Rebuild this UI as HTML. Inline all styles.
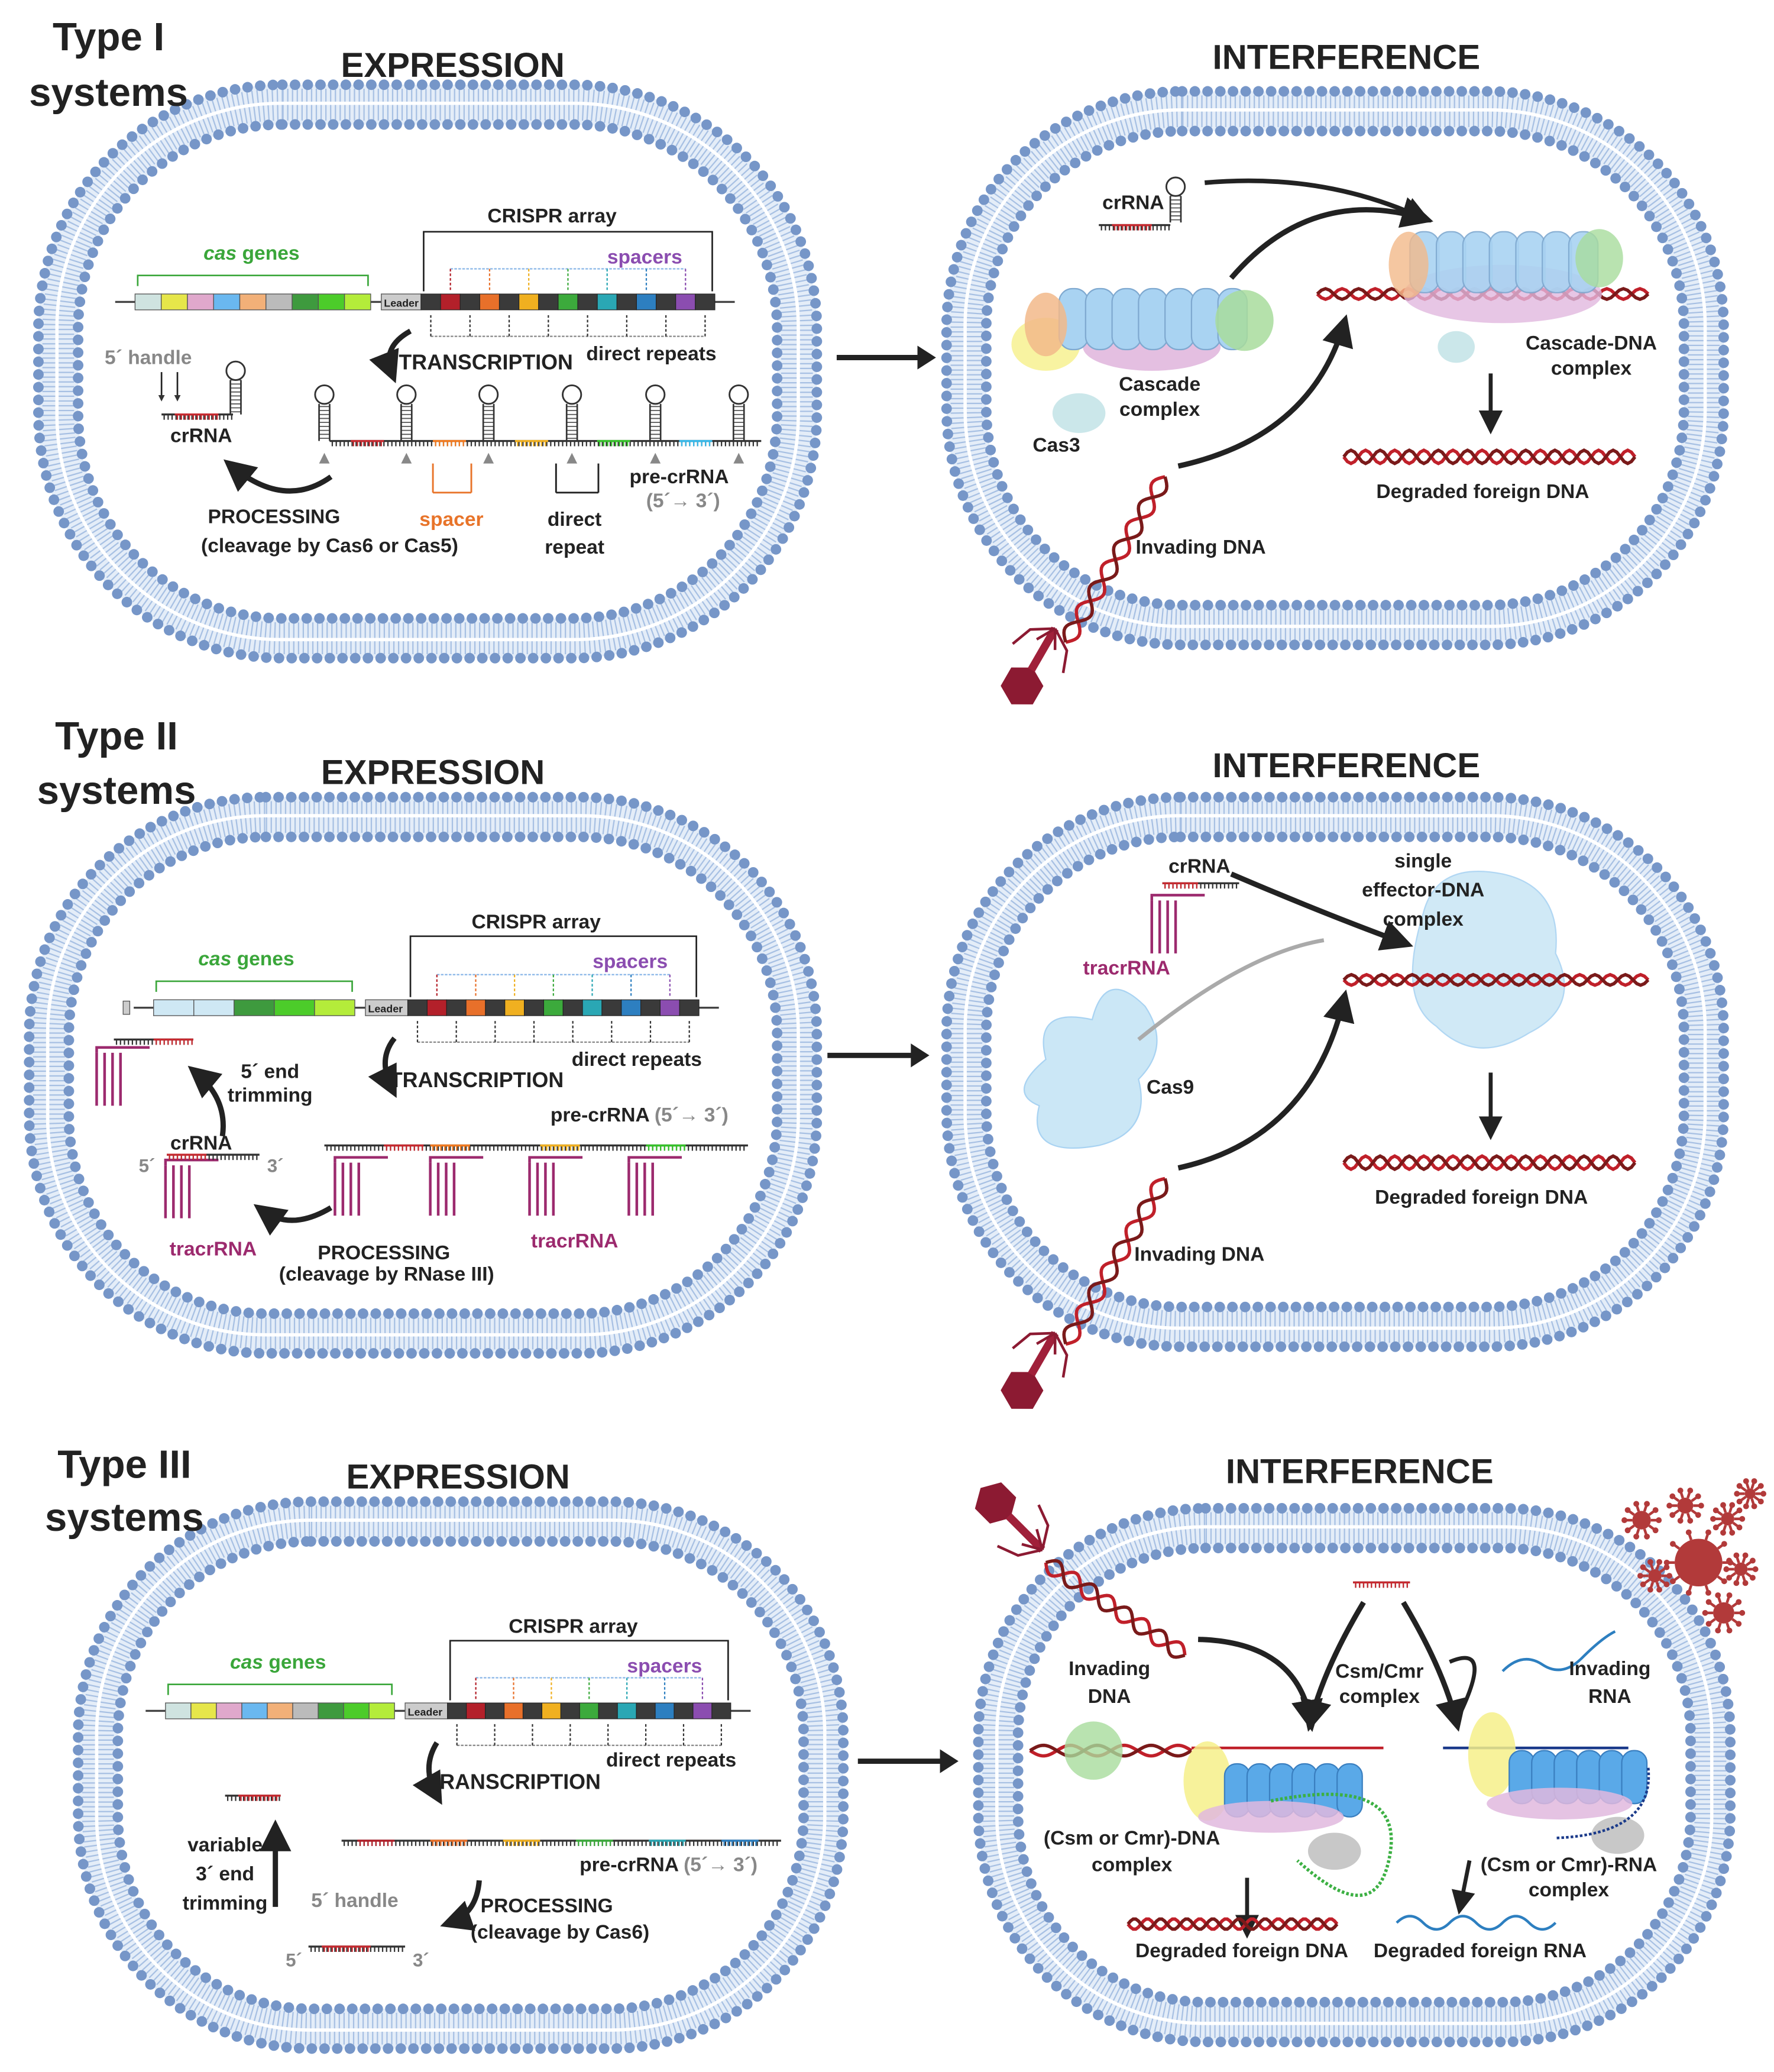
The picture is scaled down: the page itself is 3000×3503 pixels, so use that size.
<!DOCTYPE html>
<html><head><meta charset="utf-8"><style>
html,body{margin:0;padding:0;background:#fff}
svg{display:block}
text{font-family:"Liberation Sans",sans-serif;font-weight:bold;fill:#222}
</style></head><body>
<svg id="s" xmlns="http://www.w3.org/2000/svg" width="3000" height="3503" viewBox="0 0 1340 1564.7">
<defs>
<marker id="ah" markerWidth="6" markerHeight="6" refX="4" refY="3" orient="auto"><path d="M0,0 L6,3 L0,6 z" fill="#222"/></marker>
<marker id="sah" markerWidth="4" markerHeight="4" refX="3" refY="2" orient="auto"><path d="M0,0 L4,2 L0,4 z" fill="#333"/></marker>
</defs>
<g id="g"></g>
<text x="82" y="38" font-size="30" text-anchor="middle">Type I</text>
<text x="82" y="80" font-size="30" text-anchor="middle">systems</text>
<text x="342" y="58" font-size="26" text-anchor="middle">EXPRESSION</text>
<text x="1017" y="52" font-size="26" text-anchor="middle">INTERFERENCE</text>
<text x="88" y="566" font-size="30" text-anchor="middle">Type II</text>
<text x="88" y="607" font-size="30" text-anchor="middle">systems</text>
<text x="327" y="592" font-size="26" text-anchor="middle">EXPRESSION</text>
<text x="1017" y="587" font-size="26" text-anchor="middle">INTERFERENCE</text>
<text x="94" y="1116" font-size="30" text-anchor="middle">Type III</text>
<text x="94" y="1156" font-size="30" text-anchor="middle">systems</text>
<text x="346" y="1124" font-size="26" text-anchor="middle">EXPRESSION</text>
<text x="1027" y="1120" font-size="26" text-anchor="middle">INTERFERENCE</text>

<text x="417" y="168" font-size="15" text-anchor="middle">CRISPR array</text>
<text x="190" y="196" font-size="15" text-anchor="middle" style="fill:#3aa63a"><tspan font-style="italic" style="fill:#3aa63a">cas</tspan> genes</text>
<text x="487" y="199" font-size="15" text-anchor="middle" style="fill:#8b4db0">spacers</text>
<text x="492" y="272" font-size="15" text-anchor="middle">direct repeats</text>
<text x="367" y="279" font-size="16" text-anchor="middle">TRANSCRIPTION</text>
<text x="112" y="275" font-size="15" text-anchor="middle" style="fill:#888">5´ handle</text>
<text x="152" y="334" font-size="15" text-anchor="middle">crRNA</text>
<text x="207" y="395" font-size="15" text-anchor="middle">PROCESSING</text>
<text x="249" y="417" font-size="15" text-anchor="middle">(cleavage by Cas6 or Cas5)</text>
<text x="341" y="397" font-size="15" text-anchor="middle" style="fill:#e8742a">spacer</text>
<text x="434" y="397" font-size="15" text-anchor="middle">direct</text>
<text x="434" y="418" font-size="15" text-anchor="middle">repeat</text>
<text x="513" y="365" font-size="15" text-anchor="middle">pre-crRNA</text>
<text x="516" y="383" font-size="15" text-anchor="middle" style="fill:#888">(5´→ 3´)</text>
<text x="856" y="158" font-size="15" text-anchor="middle">crRNA</text>
<text x="876" y="295" font-size="15" text-anchor="middle">Cascade</text>
<text x="876" y="314" font-size="15" text-anchor="middle">complex</text>
<text x="798" y="341" font-size="15" text-anchor="middle">Cas3</text>
<text x="907" y="418" font-size="15" text-anchor="middle">Invading DNA</text>
<text x="1202" y="264" font-size="15" text-anchor="middle">Cascade-DNA</text>
<text x="1202" y="283" font-size="15" text-anchor="middle">complex</text>
<text x="1120" y="376" font-size="15" text-anchor="middle">Degraded foreign DNA</text>

<text x="405" y="701" font-size="15" text-anchor="middle">CRISPR array</text>
<text x="186" y="729" font-size="15" text-anchor="middle" style="fill:#3aa63a"><tspan font-style="italic" style="fill:#3aa63a">cas</tspan> genes</text>
<text x="476" y="731" font-size="15" text-anchor="middle" style="fill:#8b4db0">spacers</text>
<text x="481" y="805" font-size="15" text-anchor="middle">direct repeats</text>
<text x="360" y="821" font-size="16" text-anchor="middle">TRANSCRIPTION</text>
<text x="204" y="814" font-size="15" text-anchor="middle">5´ end</text>
<text x="204" y="832" font-size="15" text-anchor="middle">trimming</text>
<text x="483" y="847" font-size="15" text-anchor="middle">pre-crRNA <tspan style="fill:#888">(5´→ 3´)</tspan></text>
<text x="152" y="868" font-size="15" text-anchor="middle">crRNA</text>
<text x="111" y="885" font-size="14" text-anchor="middle" style="fill:#888">5´</text>
<text x="208" y="885" font-size="14" text-anchor="middle" style="fill:#888">3´</text>
<text x="161" y="948" font-size="15" text-anchor="middle" style="fill:#9c2a6e">tracrRNA</text>
<text x="434" y="942" font-size="15" text-anchor="middle" style="fill:#9c2a6e">tracrRNA</text>
<text x="290" y="951" font-size="15" text-anchor="middle">PROCESSING</text>
<text x="292" y="967" font-size="15" text-anchor="middle">(cleavage by RNase III)</text>
<text x="906" y="659" font-size="15" text-anchor="middle">crRNA</text>
<text x="851" y="736" font-size="15" text-anchor="middle" style="fill:#9c2a6e">tracrRNA</text>
<text x="1075" y="655" font-size="15" text-anchor="middle">single</text>
<text x="1075" y="677" font-size="15" text-anchor="middle">effector-DNA</text>
<text x="1075" y="699" font-size="15" text-anchor="middle">complex</text>
<text x="884" y="826" font-size="15" text-anchor="middle">Cas9</text>
<text x="906" y="952" font-size="15" text-anchor="middle">Invading DNA</text>
<text x="1119" y="909" font-size="15" text-anchor="middle">Degraded foreign DNA</text>

<text x="433" y="1233" font-size="15" text-anchor="middle">CRISPR array</text>
<text x="210" y="1260" font-size="15" text-anchor="middle" style="fill:#3aa63a"><tspan font-style="italic" style="fill:#3aa63a">cas</tspan> genes</text>
<text x="502" y="1263" font-size="15" text-anchor="middle" style="fill:#8b4db0">spacers</text>
<text x="507" y="1334" font-size="15" text-anchor="middle">direct repeats</text>
<text x="388" y="1351" font-size="16" text-anchor="middle">TRANSCRIPTION</text>
<text x="505" y="1413" font-size="15" text-anchor="middle">pre-crRNA <tspan style="fill:#888">(5´→ 3´)</tspan></text>
<text x="170" y="1398" font-size="15" text-anchor="middle">variable</text>
<text x="170" y="1420" font-size="15" text-anchor="middle">3´ end</text>
<text x="170" y="1442" font-size="15" text-anchor="middle">trimming</text>
<text x="268" y="1440" font-size="15" text-anchor="middle" style="fill:#888">5´ handle</text>
<text x="222" y="1485" font-size="14" text-anchor="middle" style="fill:#888">5´</text>
<text x="318" y="1485" font-size="14" text-anchor="middle" style="fill:#888">3´</text>
<text x="413" y="1444" font-size="15" text-anchor="middle">PROCESSING</text>
<text x="423" y="1464" font-size="15" text-anchor="middle">(cleavage by Cas6)</text>
<text x="838" y="1265" font-size="15" text-anchor="middle">Invading</text>
<text x="838" y="1286" font-size="15" text-anchor="middle">DNA</text>
<text x="1042" y="1267" font-size="15" text-anchor="middle">Csm/Cmr</text>
<text x="1042" y="1286" font-size="15" text-anchor="middle">complex</text>
<text x="1216" y="1265" font-size="15" text-anchor="middle">Invading</text>
<text x="1216" y="1286" font-size="15" text-anchor="middle">RNA</text>
<text x="855" y="1393" font-size="15" text-anchor="middle">(Csm or Cmr)-DNA</text>
<text x="855" y="1413" font-size="15" text-anchor="middle">complex</text>
<text x="1185" y="1413" font-size="15" text-anchor="middle">(Csm or Cmr)-RNA</text>
<text x="1185" y="1432" font-size="15" text-anchor="middle">complex</text>
<text x="938" y="1478" font-size="15" text-anchor="middle">Degraded foreign DNA</text>
<text x="1118" y="1478" font-size="15" text-anchor="middle">Degraded foreign RNA</text>
</svg>
<script>
const NS="http://www.w3.org/2000/svg";const G=document.getElementById('g');
function E(t,a,p){const e=document.createElementNS(NS,t);for(const k in a)e.setAttribute(k,a[k]);(p||G).appendChild(e);return e;}
function rr(x,y,w,h,r,st){return E('rect',Object.assign({x,y,width:w,height:h,rx:r,ry:r,fill:'none'},st));}
function mem(x,y,w,h){const r=Math.min(w,h)*0.42;
 rr(x,y,w,h,r,{fill:'#fff',stroke:'#e4edf8','stroke-width':30});
 rr(x,y,w,h,r,{stroke:'#a7c0e3','stroke-width':24,'stroke-dasharray':'1 2.6'});
 rr(x-1,y-1,w+2,h+2,r,{stroke:'#fff','stroke-width':2.5});
 rr(x-15,y-15,w+30,h+30,r+15,{stroke:'#7696c8','stroke-width':8,'stroke-dasharray':'0 9.6','stroke-linecap':'round'});
 rr(x+15,y+15,w-30,h-30,r-15,{stroke:'#7696c8','stroke-width':8,'stroke-dasharray':'0 9.6','stroke-linecap':'round'});}
mem(44,79,558,403);mem(730,84,557,388);mem(37,617,565,390);mem(730,617,557,385);mem(74,1149,548,383);mem(754,1154,538,373);
function line(x1,y1,x2,y2,c,w,extra){return E('line',Object.assign({x1,y1,x2,y2,stroke:c||'#222','stroke-width':w||1.5},extra||{}));}
function path(d,c,w,extra){return E('path',Object.assign({d,fill:'none',stroke:c||'#222','stroke-width':w||2},extra||{}));}
function bigArrow(x1,x2,y){line(x1,y,x2-10,y,'#222',4);E('path',{d:`M${x2-14},${y-9} L${x2},${y} L${x2-14},${y+9}z`,fill:'#222'});}
bigArrow(632,707,270);bigArrow(625,702,797);bigArrow(648,724,1330);
const SP=['#b3202a','#e8702a','#f0b020','#3caa3c','#2aa7b4','#2d7fc0','#8b4db0'];
function locus(gx0,gx1,lx,ax0,ax1,y,genes,top){
 line(gx0-15,y,ax1+15,y,'#444',1.5);
 let n=genes.length,w=(gx1-gx0)/n;genes.forEach((c,i)=>E('rect',{x:gx0+i*w,y:y-6,width:w,height:12,fill:c,stroke:'#555','stroke-width':.6}));
 E('rect',{x:lx,y:y-6,width:ax0-lx,height:12,fill:'#ccc',stroke:'#555','stroke-width':.6});
 const t=E('text',{x:lx+2,y:y+3.5,'font-size':8});t.textContent='Leader';
 let m=15,cw=(ax1-ax0)/m;for(let i=0;i<m;i++){E('rect',{x:ax0+i*cw,y:y-6,width:cw,height:12,fill:i%2?SP[(i-1)/2]:'#3a3a3a',stroke:'#222','stroke-width':.5});}
 path(`M${gx0+2},${y-12} V${y-20} H${gx1-2} V${y-12}`,'#3aa63a',1.2);
 path(`M${ax0+2},${y-8} V${top} H${ax1-2} V${y-8}`,'#222',1.2);
 line(ax0+cw*1.5,y-25,ax0+cw*13.5,y-25,'#8ab6e8',1,{'stroke-dasharray':'2 1'});
 for(let i=0;i<7;i++){let xx=ax0+cw*(1.5+2*i);line(xx,y-25,xx,y-9,SP[i],1,{'stroke-dasharray':'2 1.5'});}
 line(ax0+cw*0.5,y+26,ax0+cw*14.5,y+26,'#888',1,{'stroke-dasharray':'2 1'});
 for(let i=0;i<8;i++){let xx=ax0+cw*(0.5+2*i);line(xx,y+26,xx,y+10,'#333',1,{'stroke-dasharray':'2 1.5'});}
}
const GI=['#cfe3e0','#e6e64a','#e0a8cc','#6ab8f0','#f2b078','#bbb','#3e9a3e','#4ccc2a','#b4ec3a'];
locus(102,280,288,318,540,228,GI,175);
locus(116,268,276,308,528,761,['#cfe8f4','#cfe8f4','#3e9a3e','#4ccc2a','#b4ec3a'],707);
E('rect',{x:93,y:756,width:5,height:10,fill:'#ccc',stroke:'#555','stroke-width':.6});
locus(125,298,306,338,552,1292,GI,1239);
function curveArrow(d,c){path(d,c||'#222',4,{'marker-end':'url(#ah)'});}
curveArrow('M310,250 Q288,262 296,282');curveArrow('M250,360 Q215,385 175,352');
curveArrow('M298,784 Q285,800 296,822');curveArrow('M250,912 Q220,930 198,914');curveArrow('M168,858 Q172,830 148,810');
curveArrow('M330,1316 Q318,1335 330,1356');curveArrow('M362,1420 Q360,1445 340,1452');curveArrow('M208,1440 V1382');
function rna(x0,x1,y,c,dir){line(x0,y,x1,y,c||'#333',1.5);for(let x=x0+2;x<x1;x+=3)line(x,y,x,y+(dir||4),c||'#333',1);}
function hairpin(x,y,h){for(let i=0;i<h;i+=3)line(x-4,y-i-2,x+4,y-i-2,'#555',.8);line(x-4,y,x-4,y-h,'#333',1.2);line(x+4,y,x+4,y-h,'#333',1.2);E('circle',{cx:x,cy:y-h-7,r:7,fill:'#fff',stroke:'#333','stroke-width':1.3});}
[245,307,369,432,495,558].forEach((x,i)=>{hairpin(x,333,28);E('path',{d:`M${x-4},350 l4,-8 l4,8z`,fill:'#888'});});
rna(249,575,333);for(let i=0;i<5;i++)rna(265+i*62,290+i*62,333,['#c62a30','#f07a20','#f0b020','#36c12a','#37b8e8'][i]);
rna(122,176,313);rna(132,165,313,'#c62a30');hairpin(178,313,26);
line(122,281,122,302,'#222',1.2,{'marker-end':'url(#sah)'});line(134,281,134,302,'#222',1.2,{'marker-end':'url(#sah)'});
path('M327,372 V350 M356,372 V350 M327,372 H356','#e8742a',1.3);path('M420,372 V350 M452,372 V350 M420,372 H452','#222',1.3);
hairpin(888,168,20);rna(830,884,170);rna(840,870,170,'#c62a30');
E('ellipse',{cx:790,cy:260,rx:26,ry:20,fill:'#f6f08a',opacity:.8});E('ellipse',{cx:870,cy:262,rx:52,ry:18,fill:'#e1b8de',opacity:.9});
for(let i=0;i<7;i++)E('rect',{x:800+i*20,y:218,width:22,height:46,rx:10,fill:'#a9d3f2',stroke:'#7fa9d0','stroke-width':1});
E('ellipse',{cx:790,cy:245,rx:16,ry:24,fill:'#f2b98a',opacity:.85});E('ellipse',{cx:940,cy:242,rx:22,ry:23,fill:'#a8dc9c',opacity:.85});
E('ellipse',{cx:815,cy:312,rx:20,ry:15,fill:'#cbe7ea'});
function helix(x0,y0,x1,y1,n,amp,c1,c2){let d1='',d2='';for(let i=0;i<=80;i++){let t=i/80,x=x0+(x1-x0)*t,y=y0+(y1-y0)*t,dx=-(y1-y0),dy=(x1-x0),L=Math.hypot(dx,dy);let s=Math.sin(t*n*2*Math.PI)*amp;d1+=(i?'L':'M')+(x+dx/L*s)+','+(y+dy/L*s);d2+=(i?'L':'M')+(x-dx/L*s)+','+(y-dy/L*s);}path(d1,c1,2.5);path(d2,c2,2.5);}
function phage(x,y,a){const g=E('g',{transform:`translate(${x},${y}) rotate(${a})`});E('polygon',{points:'0,-16 14,-8 14,8 0,16 -14,8 -14,-8',fill:'#8c1a32'},g);E('rect',{x:-3,y:-50,width:6,height:36,fill:'#a0203a'},g);E('path',{d:'M0,-50 l-16,10 l-6,16 M0,-50 l16,10 l6,16 M0,-50 l-8,14 M0,-50 l8,14',stroke:'#8c1a32','stroke-width':2,fill:'none'},g);}
helix(805,485,880,360,4,6,'#c0202a','#7a1a1a');phage(772,518,30);
helix(805,1015,880,890,4,6,'#c0202a','#7a1a1a');phage(772,1050,30);
curveArrow('M890,352 Q990,330 1015,245');curveArrow('M930,210 Q990,140 1075,165');path('M910,138 Q1000,130 1075,165','#222',3.5,{'marker-end':'url(#ah)'});
helix(995,222,1245,222,10,4,'#c0202a','#7a1a1a');
E('ellipse',{cx:1135,cy:222,rx:75,ry:22,fill:'#e1b8de',opacity:.8});
for(let i=0;i<7;i++)E('rect',{x:1065+i*20,y:175,width:22,height:46,rx:10,fill:'#a9d3f2',stroke:'#7fa9d0','stroke-width':1,opacity:.9});
E('ellipse',{cx:1064,cy:200,rx:15,ry:25,fill:'#f2b98a',opacity:.8});E('ellipse',{cx:1208,cy:195,rx:18,ry:22,fill:'#a8dc9c',opacity:.8});
E('ellipse',{cx:1100,cy:262,rx:14,ry:12,fill:'#cbe7ea'});
line(1126,282,1126,322,'#222',3,{'marker-end':'url(#ah)'});helix(1015,345,1235,345,10,5,'#c0202a','#7a1a1a');
rna(245,565,865);[['#c62a30',290],['#f07a20',325],['#f0b020',408],['#36c12a',488]].forEach(([c,x])=>rna(x,x+30,865,c));
function tracr(x,y){path(`M${x},${y} v-4 h40`,'#9c2a6e',2);path(`M${x},${y} v40 m6,0 v-40 m6,0 v40 m6,0 v-40`,'#9c2a6e',2);}
[253,325,400,475].forEach(x=>tracr(x,878));tracr(125,880);tracr(73,795);
rna(86,146,785);rna(116,146,785,'#c62a30');rna(126,196,872);rna(126,156,872,'#c62a30');
rna(878,936,667);rna(878,905,667,'#c62a30');tracr(870,680);
path('M790,800 q-10,-40 35,-30 q10,-40 40,-10 q20,30 -5,55 q10,40 -30,50 q-55,10 -45,-30 q-25,-10 5,-35z','#a9d3f2',1,{fill:'#cbe7f6'});
curveArrow('M930,660 Q1000,690 1060,712');path('M860,785 Q940,720 1000,710','#aaa',3);
curveArrow('M890,882 Q990,860 1015,755');
path('M1075,690 q10,-40 60,-30 q45,10 40,60 q20,40 -20,60 q-40,25 -70,-5 q-30,-20 -10,-85z','#a9d3f2',1,{fill:'#cbe7f6',opacity:.9});
helix(1015,740,1245,740,10,4,'#c0202a','#7a1a1a');
line(1126,810,1126,855,'#222',3,{'marker-end':'url(#ah)'});helix(1015,878,1235,878,10,5,'#c0202a','#7a1a1a');
rna(258,590,1390);SP.slice(0,6).forEach((c,i)=>rna(270+i*55,298+i*55,1390,c));
rna(170,212,1356);rna(180,212,1356,'#c62a30');rna(233,306,1470);rna(243,280,1470,'#c62a30');
phage(752,1135,135);helix(790,1180,895,1250,4,6,'#c0202a','#7a1a1a');
rna(1022,1065,1195);rna(1022,1065,1195,'#c62a30');
curveArrow('M905,1238 Q980,1240 990,1300');curveArrow('M1030,1210 Q1000,1260 990,1300');curveArrow('M1060,1210 Q1090,1260 1100,1300');path('M1095,1255 Q1130,1240 1100,1300','#222',3);
helix(778,1322,900,1322,3,4,'#c0202a','#7a1a1a');line(900,1320,1045,1320,'#c0202a',2);
E('circle',{cx:826,cy:1322,r:22,fill:'#a8dc9c',opacity:.8});E('ellipse',{cx:912,cy:1345,rx:18,ry:30,fill:'#f6f08a',opacity:.85});
for(let i=0;i<6;i++)E('rect',{x:925+i*17,y:1332,width:19,height:40,rx:9,fill:'#5aa9e8',stroke:'#3a7fc0','stroke-width':1});
E('ellipse',{cx:960,cy:1372,rx:55,ry:12,fill:'#e1b8de',opacity:.85});E('ellipse',{cx:1008,cy:1398,rx:20,ry:14,fill:'#c8c8c8'});
path('M960,1360 Q1060,1340 1050,1400 T980,1405','#3cb043',2.5,{'stroke-dasharray':'2 1.5'});
line(1090,1320,1230,1320,'#1a3a8a',2);E('ellipse',{cx:1127,cy:1325,rx:18,ry:32,fill:'#f6f08a',opacity:.85});
for(let i=0;i<6;i++)E('rect',{x:1140+i*17,y:1322,width:19,height:40,rx:9,fill:'#5aa9e8',stroke:'#3a7fc0','stroke-width':1});
E('ellipse',{cx:1178,cy:1362,rx:55,ry:12,fill:'#e1b8de',opacity:.85});E('ellipse',{cx:1222,cy:1386,rx:20,ry:14,fill:'#c8c8c8'});
path('M1245,1335 Q1250,1385 1175,1388','#1a3a8a',2,{'stroke-dasharray':'2 1.5'});
path('M1135,1262 q15,-15 30,-5 t30,-5 t25,-20','#2d7fc0',2);
line(942,1418,942,1458,'#222',3,{'marker-end':'url(#ah)'});line(1110,1405,1103,1440,'#222',3,{'marker-end':'url(#ah)'});
helix(852,1453,1010,1453,8,4,'#c0202a','#7a1a1a');path('M1055,1452 q10,-10 20,0 t20,0 t20,0 t20,0 t20,0 t20,0','#2d7fc0',2);
function virus(x,y,r){E('circle',{cx:x,cy:y,r,fill:'#b23a3a'});for(let a=0;a<360;a+=36){let rad=a*Math.PI/180;line(x+Math.cos(rad)*r,y+Math.sin(rad)*r,x+Math.cos(rad)*(r+5),y+Math.sin(rad)*(r+5),'#b23a3a',2);E('circle',{cx:x+Math.cos(rad)*(r+6),cy:y+Math.sin(rad)*(r+6),r:2.2,fill:'#b23a3a'});}}
virus(1283,1180,18);virus(1240,1148,7);virus(1273,1137,6);virus(1305,1147,5);virus(1315,1185,5);virus(1302,1218,8);virus(1250,1190,5);virus(1322,1128,4);
</script>
</body></html>
